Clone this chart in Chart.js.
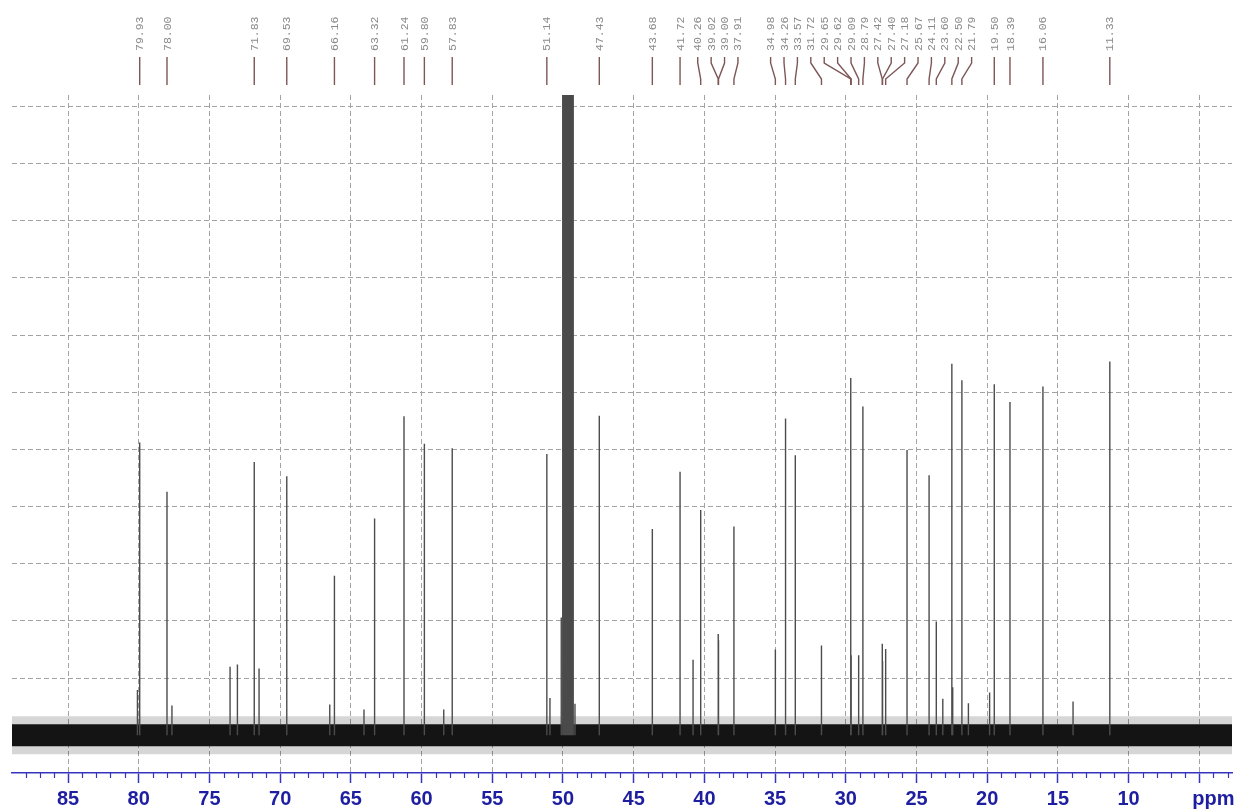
<!DOCTYPE html>
<html>
<head>
<meta charset="utf-8">
<script src="https://cdn.jsdelivr.net/npm/chart.js@4.4.1/dist/chart.umd.min.js"></script>
<style>
  html,body{margin:0;padding:0;background:#fff;}
  #wrap{width:1236px;height:811px;position:relative;}
</style>
</head>
<body>
<div id="wrap"><canvas id="spec"></canvas></div>
<script>
// 13C spectrum, ppm axis runs right-to-left
const PPM_MIN = 2.69, PPM_MAX = 88.96;
const Y_MIN = -0.66, Y_MAX = 11.2;

// peak labels printed along the top
const peakLabels = [79.93, 78.00, 71.83, 69.53, 66.16, 63.32, 61.24, 59.80, 57.83, 51.14,
  47.43, 43.68, 41.72, 40.26, 39.02, 39.00, 37.91, 34.98, 34.26, 33.57, 31.72, 29.65,
  29.62, 29.09, 28.79, 27.42, 27.40, 27.18, 25.67, 24.11, 23.60, 22.50, 21.79, 19.50,
  18.39, 16.06, 11.33];

// peak positions (ppm) and heights (grid units above the baseline)
const peakPpm = [80.09, 79.93, 78.00, 77.65, 73.54, 73.02, 71.83, 71.49, 69.53, 66.49,
  66.16, 64.07, 63.32, 61.24, 59.80, 58.43, 57.83, 51.14, 50.92, 50.12, 49.15, 47.43,
  43.68, 41.72, 40.80, 40.26, 39.02, 39.00, 37.91, 34.98, 34.26, 33.57, 31.72, 29.65,
  29.62, 29.09, 28.79, 27.42, 27.40, 27.18, 25.67, 24.11, 23.60, 23.14, 22.50, 22.44,
  21.79, 21.33, 19.83, 19.50, 18.39, 16.06, 13.93, 11.33];
const peakHeight = [0.79, 5.12, 4.26, 0.52, 1.20, 1.24, 4.78, 1.17, 4.53, 0.54,
  2.79, 0.45, 3.79, 5.58, 5.10, 0.45, 5.02, 4.92, 0.65, 2.06, 0.55, 5.59,
  3.61, 4.61, 1.32, 3.94, 1.77, 1.66, 3.65, 1.50, 5.54, 4.90, 1.57, 6.25,
  1.40, 1.40, 5.75, 1.60, 1.30, 1.51, 4.99, 4.55, 1.99, 0.64, 6.50, 0.84,
  6.21, 0.56, 0.75, 6.14, 5.83, 6.10, 0.59, 6.54];

// CD3OD solvent multiplet, runs off the top
const solventPpm = [50.00, 49.88, 49.76, 49.64, 49.52, 49.40, 49.29];
const solventHeight = [20, 20, 20, 20, 20, 20, 20];

const AXIS_BLUE = "#3434bf";
const LABEL_BLUE = "#1e1ea0";
const GRID = "#a3a3a3";

function sticks(pos, h) {
  const out = [];
  pos.forEach((p, i) => { out.push({x:p, y:0}, {x:p, y:h[i]}, {x:p, y:null}); });
  return out;
}

// spread labels so they keep a minimum gap, each cluster centred on its peaks
function spread(xs, gap) {
  let groups = xs.map(v => ({n:1, sum:v}));
  let changed = true;
  while (changed) {
    changed = false;
    for (let i = 0; i < groups.length - 1; i++) {
      const a = groups[i], b = groups[i+1];
      const aEnd = a.sum/a.n + (a.n-1)*gap/2;
      const bStart = b.sum/b.n - (b.n-1)*gap/2;
      if (bStart - aEnd < gap) {
        groups.splice(i, 2, {n:a.n+b.n, sum:a.sum+b.sum});
        changed = true; break;
      }
    }
  }
  const out = [];
  groups.forEach(g => { const c = g.sum/g.n; for (let k = 0; k < g.n; k++) out.push(c + (k-(g.n-1)/2)*gap); });
  return out;
}

const decor = {
  id: "decor",
  afterDraw(chart) {
    const {ctx, chartArea} = chart;
    const x = chart.scales.x;
    ctx.save();
    // minor ticks every 1 ppm
    ctx.strokeStyle = AXIS_BLUE; ctx.lineWidth = 1.2;
    for (let v = Math.ceil(PPM_MIN); v <= PPM_MAX; v++) {
      if (v % 5 === 0) continue;
      const px = Math.round(x.getPixelForValue(v)) + 0.5;
      ctx.beginPath(); ctx.moveTo(px, chartArea.bottom); ctx.lineTo(px, chartArea.bottom + 5); ctx.stroke();
    }
    // unit in place of the "5" label
    ctx.fillStyle = LABEL_BLUE;
    ctx.font = 'bold 20px "Liberation Sans", Arial, sans-serif';
    ctx.textAlign = "left"; ctx.textBaseline = "middle";
    ctx.fillText("ppm", x.getPixelForValue(5) - 7, chartArea.bottom + 26);

    // peak labels + connectors
    const items = peakLabels.map(v => ({v, px:x.getPixelForValue(v)})).sort((a,b) => a.px - b.px);
    const lx = spread(items.map(it => it.px), 13.4);
    ctx.font = '11.5px "Liberation Mono", "DejaVu Sans Mono", monospace';
    ctx.strokeStyle = "#7d5656"; ctx.lineWidth = 1.4;
    items.forEach((it, i) => {
      const l = lx[i];
      ctx.beginPath();
      if (Math.abs(l - it.px) < 0.6) {
        ctx.moveTo(it.px, 57); ctx.lineTo(it.px, 85);
      } else {
        ctx.moveTo(l, 57); ctx.lineTo(l, 63); ctx.lineTo(it.px, 79); ctx.lineTo(it.px, 85);
      }
      ctx.stroke();
      ctx.save();
      ctx.translate(l, 51); ctx.rotate(-Math.PI/2);
      ctx.fillStyle = "#8a8a8a"; ctx.textAlign = "left"; ctx.textBaseline = "middle";
      ctx.fillText(it.v.toFixed(2), 0, 0.5);
      ctx.restore();
    });
    ctx.restore();
  }
};

new Chart(document.getElementById("spec"), {
  type: "line",
  data: {
    datasets: [
      {data: sticks(solventPpm, solventHeight), borderColor: "#4a4a4a", borderWidth: 1.8, pointRadius: 0, spanGaps: false},
      {data: sticks(peakPpm, peakHeight), borderColor: "#4c4c4c", borderWidth: 1.4, pointRadius: 0, spanGaps: false},
      {data: [{x:PPM_MAX, y:0}, {x:PPM_MIN, y:0}], borderColor: "#141414", borderWidth: 22, pointRadius: 0, borderCapStyle: "butt"},
      {data: [{x:PPM_MAX, y:0}, {x:PPM_MIN, y:0}], borderColor: "rgba(0,0,0,0.16)", borderWidth: 38, pointRadius: 0, borderCapStyle: "butt"}
    ]
  },
  options: {
    responsive: true, maintainAspectRatio: false, animation: false,
    layout: {padding: {left: 12, right: 4, top: 95, bottom: 0}},
    plugins: {legend: {display: false}, tooltip: {enabled: false}},
    scales: {
      x: {
        type: "linear", reverse: true, min: PPM_MIN, max: PPM_MAX,
        ticks: {stepSize: 5, includeBounds: false, autoSkip: false, maxRotation: 0, padding: 4,
          color: LABEL_BLUE, font: {family: '"Liberation Sans", Arial, sans-serif', size: 20, weight: "bold"},
          callback: v => (v === 5 ? "" : String(v))},
        grid: {color: GRID, lineWidth: 1, tickLength: 10, tickColor: AXIS_BLUE, tickWidth: 1.5},
        border: {display: true, color: AXIS_BLUE, width: 1.5, dash: [5, 3]},
        afterFit: s => { s.height = 38; }
      },
      y: {
        min: Y_MIN, max: Y_MAX,
        ticks: {display: false, stepSize: 1, includeBounds: false},
        grid: {color: GRID, lineWidth: 1, drawTicks: false},
        border: {display: false, dash: [5, 3]},
        afterFit: s => { s.width = 0; }
      }
    }
  },
  plugins: [decor]
});
</script>
</body>
</html>
